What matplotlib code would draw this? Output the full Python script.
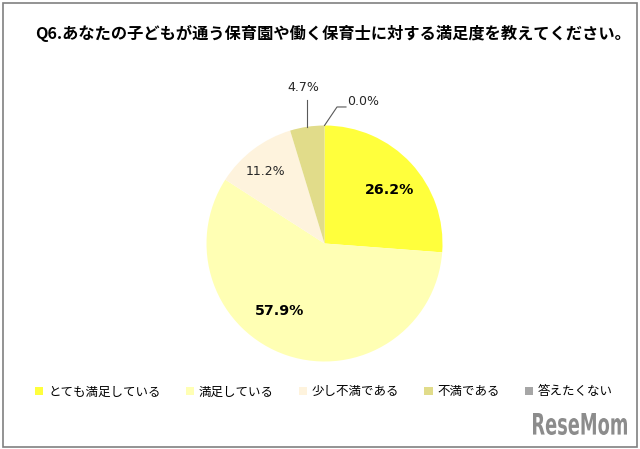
import matplotlib
matplotlib.use("Agg")
import matplotlib.pyplot as plt
from matplotlib.patches import Patch, Rectangle, PathPatch
from matplotlib.textpath import TextPath
from matplotlib.font_manager import FontProperties
from matplotlib.transforms import Affine2D
import numpy as np

plt.rcParams['font.family'] = ['Noto Sans CJK JP', 'DejaVu Sans']

# データ
title = "Q6.あなたの子どもが通う保育園や働く保育士に対する満足度を教えてください。"
categories = ["とても満足している", "満足している", "少し不満である", "不満である", "答えたくない"]
values = [26.2, 57.9, 11.2, 4.7, 0.0]
colors = ["#FFFF3C", "#FFFFB4", "#FEF3DD", "#E1DC8A", "#A6A6A6"]

W, H = 640, 449
fig = plt.figure(figsize=(W / 100, H / 100), dpi=100)

# 外枠
fig.patches.append(Rectangle((3 / W, 2 / H), 634 / W, 444 / H, transform=fig.transFigure,
                             fill=False, edgecolor="#808080", linewidth=1.2))

fig.text(35 / W, 1 - 33 / H, title, fontsize=11.7, fontweight="bold",
         ha="left", va="center", color="#000000")

# 円グラフ
cx, cy, r = 324.5, 243.5, 118
ax = fig.add_axes([(cx - r) / W, (H - cy - r) / H, 2 * r / W, 2 * r / H])
wedges, _ = ax.pie(values, colors=colors, startangle=90, counterclock=False,
                   radius=1, wedgeprops=dict(linewidth=0))
ax.set_xlim(-1, 1)
ax.set_ylim(-1, 1)
ax.axis("off")

def lab(v):
    return "%.1f%%" % v

# 内側ラベル
ax.text(0.555, 0.453, lab(values[0]), fontsize=10.2, fontweight="bold",
        family="DejaVu Sans", ha="center", va="center")
ax.text(-0.377, -0.572, lab(values[1]), fontsize=10.2, fontweight="bold",
        family="DejaVu Sans", ha="center", va="center")
ax.text(-0.504, 0.606, lab(values[2]), fontsize=9, family="DejaVu Sans",
        ha="center", va="center", color="#262626")

# 引き出し線付きラベル
mid3 = np.deg2rad(wedges[3].theta1 + wedges[3].theta2) / 2
x3 = np.cos(mid3)
ax.plot([x3, x3], [np.sin(mid3), 1.216], color="#595959", lw=0.8, clip_on=False)
ax.text(-0.182, 1.326, lab(values[3]), fontsize=9, family="DejaVu Sans",
        ha="center", va="center", color="#262626", clip_on=False)

mid4 = np.deg2rad(wedges[4].theta1 + wedges[4].theta2) / 2
ax.plot([np.cos(mid4), 0.106, 0.182], [np.sin(mid4), 1.157, 1.157],
        color="#595959", lw=0.8, clip_on=False)
ax.text(0.19, 1.20, lab(values[4]), fontsize=9, family="DejaVu Sans",
        ha="left", va="center", color="#262626", clip_on=False)

# 凡例
handles = [Patch(facecolor=c, edgecolor="none") for c in colors]
fig.legend(handles, categories, loc="center left", bbox_to_anchor=(35 / W, 1 - 392 / H),
           ncol=5, frameon=False, fontsize=9, handlelength=0.65, handleheight=0.65,
           handletextpad=0.4, columnspacing=2.0, borderpad=0, borderaxespad=0)

# ロゴ (縦長に圧縮した文字)
tp = TextPath((0, 0), "ReseMom", size=31, prop=FontProperties(family="DejaVu Sans", weight="bold"))
ext = tp.get_extents()
sx = 94 / ext.width
logo_tr = (Affine2D().translate(-ext.x0, -ext.y0).scale(sx, 22 / ext.height)
           .translate(533, H - 435).scale(1 / W, 1 / H) + fig.transFigure)
fig.add_artist(PathPatch(tp, transform=logo_tr, facecolor="#8C8C8C", edgecolor="none"))

fig.savefig("out.png", dpi=100)
